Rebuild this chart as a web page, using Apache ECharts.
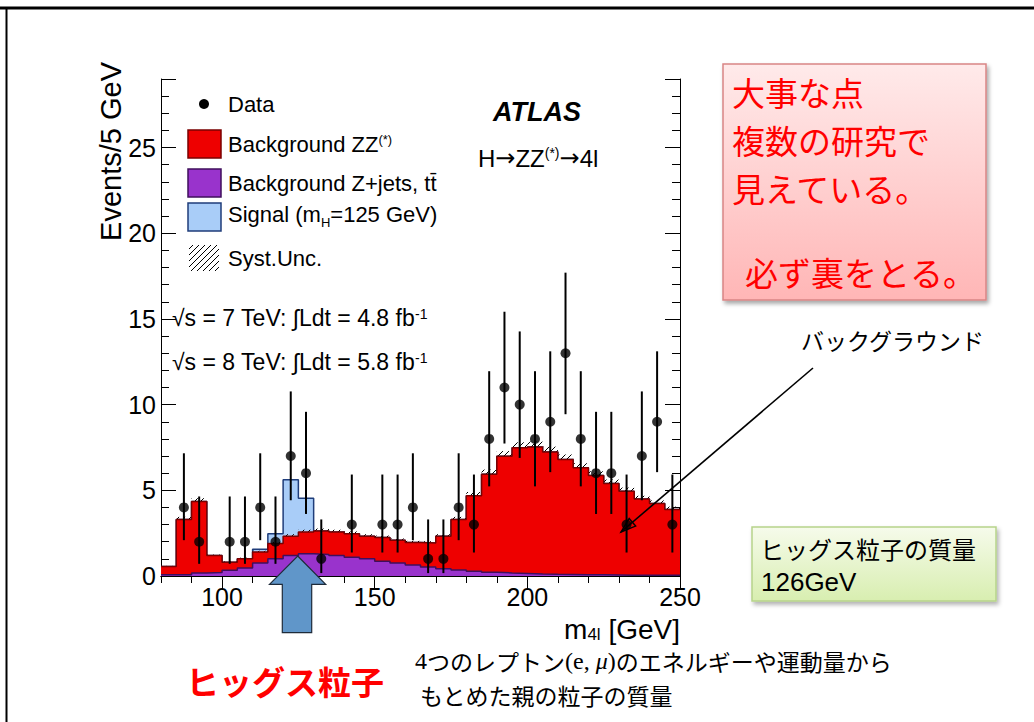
<!DOCTYPE html>
<html>
<head>
<meta charset="utf-8">
<script src="https://cdn.jsdelivr.net/npm/echarts@6/dist/echarts.min.js"></script>
<style>
  html, body { margin: 0; padding: 0; background: #fff; }
  #chart { width: 1034px; height: 722px; }
</style>
</head>
<body>
<div id="chart"></div>
<script>
// Lower edges of the 5 GeV bins in m4l [GeV]
const binLow = [80,85,90,95,100,105,110,115,120,125,130,135,140,145,150,155,160,165,170,175,
                180,185,190,195,200,205,210,215,220,225,230,235,240,245];
const binWidth = 5;
const xMin = 80, xMax = 250;
const yMin = 0, yMax = 29;

// Expected background Z+jets, tt̄ (events per bin)
const bkgZjets = [0.08,0.08,0.17,0.20,0.33,0.47,0.76,1.01,1.20,1.30,1.26,1.20,1.10,1.01,0.86,0.76,0.64,0.53,0.43,0.35,
                  0.28,0.22,0.18,0.15,0.12,0.10,0.09,0.08,0.07,0.06,0.05,0.05,0.04,0.04];
// Expected background ZZ(*)
const bkgZZ = [0.48,3.22,4.17,0.99,0.47,0.54,0.64,0.88,1.12,1.27,1.37,1.37,1.37,1.31,1.38,1.32,1.31,1.40,1.89,2.94,
               4.40,5.72,6.81,7.33,7.41,7.14,6.71,6.23,5.79,5.34,4.90,4.44,4.19,3.84];
// Expected signal for mH = 125 GeV
const signal = [0,0,0,0,0,0,0.16,0.58,3.30,1.96,0,0,0,0,0,0,0,0,0,0,
                0,0,0,0,0,0,0,0,0,0,0,0,0,0];
// Systematic uncertainty on the total background
const systUnc = [0.03,0.15,0.20,0.06,0.05,0.06,0.08,0.10,0.12,0.13,0.14,0.13,0.13,0.12,0.12,0.11,0.10,0.10,0.12,0.16,
                 0.22,0.27,0.30,0.32,0.32,0.31,0.29,0.27,0.25,0.23,0.21,0.19,0.18,0.17];
// Observed events (null: empty bin) with their 68% Poisson interval
const dataCounts = [null,4,2,null,2,2,4,2,7,6, 1,null,3,null,3,3,4,1,1,4,
                    3,8,11,10,8,9,13,8,6,6, 3,7,9,3];
const dataLow = [null,2.09,0.71,null,0.71,0.71,2.09,0.71,4.42,3.62, 0.17,null,1.37,null,1.37,1.37,2.09,0.17,0.17,2.09,
                 1.37,5.23,7.73,6.89,5.23,6.06,9.44,5.23,3.62,3.62, 1.37,4.42,6.06,1.37];
const dataHigh = [null,7.16,4.64,null,4.64,4.64,7.16,4.64,10.77,9.58, 3.30,null,5.92,null,5.92,5.92,7.16,3.30,3.30,7.16,
                  5.92,11.95,15.42,14.27,11.95,13.11,17.70,11.95,9.58,9.58, 5.92,10.77,13.11,5.92];

// Axis tick values
const xMajorTicks = [100, 150, 200, 250];
const yMajorStep = 5;

// Colours
const C_ZZ = '#ee0000', C_ZZ_LINE = '#7a0000';
const C_ZJ = '#9933cc', C_ZJ_LINE = '#3f0f5c';
const C_SIG = '#a9cdf8', C_SIG_LINE = '#1f3d7a';

const SANS = '"Liberation Sans", Arial, sans-serif';
const JP = '"Noto Sans CJK JP", sans-serif';
const SERIF = '"Liberation Serif", "DejaVu Serif", serif';
const ARROW = '"DejaVu Sans", sans-serif';

// Hatch pattern for the systematic band
function makeHatch() {
  const s = 6;
  const c = document.createElement('canvas');
  c.width = s; c.height = s;
  const g = c.getContext('2d');
  g.strokeStyle = '#000';
  g.lineWidth = 1;
  g.beginPath();
  g.moveTo(0, s); g.lineTo(s, 0);
  g.moveTo(-1, 1); g.lineTo(1, -1);
  g.moveTo(s - 1, s + 1); g.lineTo(s + 1, s - 1);
  g.stroke();
  return { image: c, repeat: 'repeat' };
}
const hatch = makeHatch();

// Stacked totals
const totalBkg = bkgZjets.map((v, i) => v + bkgZZ[i]);
const totalSig = totalBkg.map((v, i) => v + signal[i]);

// Step-histogram points: one per lower edge plus the closing edge
function stepPoints(vals) {
  const pts = binLow.map((x, i) => [x, vals[i]]);
  pts.push([xMax, vals[vals.length - 1]]);
  return pts;
}

const bandData = binLow.map((x, i) => [x, x + binWidth, totalBkg[i] - systUnc[i], totalBkg[i] + systUnc[i]]);
const pointData = [], errData = [];
binLow.forEach((x, i) => {
  if (dataCounts[i] == null) return;
  const xc = x + binWidth / 2;
  pointData.push([xc, dataCounts[i]]);
  errData.push([xc, dataLow[i], dataHigh[i]]);
});

function histSeries(name, vals, fill, line, z) {
  return {
    name, type: 'line', step: 'end', data: stepPoints(vals),
    xAxisIndex: 0, yAxisIndex: 0, z,
    showSymbol: false, symbol: 'none', silent: true,
    lineStyle: { color: line, width: 1.5 },
    areaStyle: { color: fill, opacity: 1 },
    itemStyle: { color: fill }
  };
}

// Axes: four sides, minor and major ticks pointing inwards
const tickStyle = { color: '#000', width: 1 };
function xAxisDef(pos, major, showLabel) {
  const a = {
    type: 'value', position: pos, min: xMin, max: xMax,
    axisLine: { show: !major, lineStyle: { color: '#000', width: 1 } },
    splitLine: { show: false },
    axisTick: { show: true, inside: true, length: major ? 14 : 7, lineStyle: tickStyle },
    axisLabel: { show: false }
  };
  if (major) {
    a.axisTick.customValues = xMajorTicks;
  } else {
    a.interval = 10;
  }
  if (showLabel) {
    a.axisLabel = {
      show: true, color: '#000', fontSize: 25, fontFamily: SANS, margin: 8, lineHeight: 26,
      formatter: v => xMajorTicks.indexOf(v) >= 0 ? String(v) : ''
    };
  }
  return a;
}
function yAxisDef(pos, major, showLabel) {
  const a = {
    type: 'value', position: pos, min: yMin, max: yMax,
    interval: major ? yMajorStep : 1,
    axisLine: { show: !major, lineStyle: { color: '#000', width: 1 } },
    splitLine: { show: false },
    axisTick: { show: true, inside: true, length: major ? 15 : 8, lineStyle: tickStyle },
    axisLabel: { show: false }
  };
  if (showLabel) {
    a.axisLabel = {
      show: true, color: '#000', fontSize: 25, fontFamily: SANS, margin: 5,
      formatter: v => (v % yMajorStep === 0) ? String(v) : ''
    };
  }
  return a;
}

// Text helper for annotations
function txt(x, y, text, font, fill, extra) {
  return Object.assign({
    type: 'text', x, y, z: 100, silent: true,
    style: Object.assign({
      text, font, fill,
      align: 'left', verticalAlign: 'middle',
      textAlign: 'left', textVerticalAlign: 'middle'
    }, (extra && extra.style) || {})
  }, extra ? { rotation: extra.rotation || 0 } : {});
}
const supStyle = (size) => ({ fontSize: size, fontFamily: SANS, fill: '#000', verticalAlign: 'top', lineHeight: 10 });
const subStyle = (size) => ({ fontSize: size, fontFamily: SANS, fill: '#000', verticalAlign: 'bottom', lineHeight: 10 });
const arrowStyle = (size) => ({ fontSize: size, fontFamily: ARROW, fill: '#000' });

// Background arrow geometry
const bgFrom = [813, 368], bgTip = [621, 532];
const bgLen = Math.hypot(bgTip[0] - bgFrom[0], bgTip[1] - bgFrom[1]);
const ux = (bgTip[0] - bgFrom[0]) / bgLen, uy = (bgTip[1] - bgFrom[1]) / bgLen;
const headBase = [bgTip[0] - 15 * ux, bgTip[1] - 15 * uy];
const headL = [headBase[0] + 5 * uy, headBase[1] - 5 * ux];
const headR = [headBase[0] - 5 * uy, headBase[1] + 5 * ux];

const noteFont = '33px ' + JP;
const graphics = [
  // slide frame
  { type: 'line', z: 100, silent: true, shape: { x1: 0, y1: 8, x2: 1034, y2: 8 }, style: { stroke: '#000', lineWidth: 3 } },
  { type: 'line', z: 100, silent: true, shape: { x1: 6.5, y1: 8, x2: 6.5, y2: 722 }, style: { stroke: '#000', lineWidth: 2 } },

  // axis titles
  txt(111, 62, 'Events/5 GeV', '29px ' + SANS, '#000',
      { rotation: Math.PI / 2, style: { align: 'right', textAlign: 'right' } }),
  txt(680, 629, 'm{sub|4l} [GeV]', '28px ' + SANS, '#000',
      { style: { align: 'right', textAlign: 'right', lineHeight: 28, rich: { sub: subStyle(17) } } }),

  // legend
  { type: 'circle', z: 100, silent: true, shape: { cx: 204, cy: 104, r: 5 }, style: { fill: '#000' } },
  txt(228, 104, 'Data', '22px ' + SANS, '#000'),
  { type: 'rect', z: 100, silent: true, shape: { x: 188, y: 130, width: 33, height: 28 }, style: { fill: C_ZZ, stroke: C_ZZ_LINE, lineWidth: 1.5 } },
  txt(228, 144, 'Background ZZ{sup|(*)}', '22px ' + SANS, '#000', { style: { rich: { sup: supStyle(13) } } }),
  { type: 'rect', z: 100, silent: true, shape: { x: 188, y: 169, width: 33, height: 28 }, style: { fill: C_ZJ, stroke: C_ZJ_LINE, lineWidth: 1.5 } },
  txt(228, 183, 'Background Z+jets, tt\u0304', '22px ' + SANS, '#000', { style: { lineHeight: 26 } }),
  { type: 'rect', z: 100, silent: true, shape: { x: 188, y: 203, width: 33, height: 28 }, style: { fill: C_SIG, stroke: C_SIG_LINE, lineWidth: 1.5 } },
  txt(228, 214, 'Signal (m{sub|H}=125 GeV)', '22px ' + SANS, '#000', { style: { lineHeight: 30, rich: { sub: subStyle(13) } } }),
  { type: 'rect', z: 100, silent: true, shape: { x: 189, y: 245, width: 30, height: 26 }, style: { fill: hatch } },
  txt(228, 258, 'Syst.Unc.', '22px ' + SANS, '#000'),

  // luminosity and experiment labels
  txt(172, 318, '\u221As = 7 TeV: \u222BLdt = 4.8 fb{sup|-1}', '23px ' + SANS, '#000', { style: { rich: { sup: supStyle(14) } } }),
  txt(172, 362, '\u221As = 8 TeV: \u222BLdt = 5.8 fb{sup|-1}', '23px ' + SANS, '#000', { style: { rich: { sup: supStyle(14) } } }),
  txt(493, 112, 'ATLAS', 'italic bold 27px ' + SANS, '#000'),
  txt(478, 158, 'H{ar|\u2192}ZZ{sup|(*)}{ar|\u2192}4l', '24px ' + SANS, '#000',
      { style: { rich: { sup: supStyle(14), ar: arrowStyle(24) } } }),

  // pink note box
  { type: 'rect', z: 100, silent: true, shape: { x: 723, y: 64, width: 263, height: 236 },
    style: { fill: new echarts.graphic.LinearGradient(0, 0, 0, 1, [{ offset: 0, color: '#ffeaea' }, { offset: 1, color: '#ffb6b6' }]),
             stroke: '#d98585', lineWidth: 1.5, shadowBlur: 4, shadowOffsetX: 2, shadowOffsetY: 3, shadowColor: 'rgba(0,0,0,0.35)' } },
  txt(732, 92, '大事な点', noteFont, '#ff0000', { style: { lineHeight: 40 } }),
  txt(732, 140, '複数の研究で', noteFont, '#ff0000', { style: { lineHeight: 40 } }),
  txt(732, 188, '見えている。', noteFont, '#ff0000', { style: { lineHeight: 40 } }),
  txt(745, 272, '必ず裏をとる。', noteFont, '#ff0000', { style: { lineHeight: 40 } }),

  // background annotation
  txt(801, 340, 'バックグラウンド', '23px ' + JP, '#000'),
  { type: 'line', z: 100, silent: true, shape: { x1: bgFrom[0], y1: bgFrom[1], x2: bgTip[0], y2: bgTip[1] }, style: { stroke: '#000', lineWidth: 1.6 } },
  { type: 'polygon', z: 100, silent: true, shape: { points: [bgTip, headL, headR] }, style: { fill: 'none', stroke: '#000', lineWidth: 1.4 } },

  // mass note box
  { type: 'rect', z: 100, silent: true, shape: { x: 752, y: 527, width: 244, height: 74 },
    style: { fill: new echarts.graphic.LinearGradient(0, 0, 0, 1, [{ offset: 0, color: '#f6fbeb' }, { offset: 1, color: '#d8eeb0' }]),
             stroke: '#b6d48a', lineWidth: 1.5, shadowBlur: 4, shadowOffsetX: 2, shadowOffsetY: 3, shadowColor: 'rgba(0,0,0,0.3)' } },
  txt(760, 548, 'ヒッグス粒子の質量', '24px ' + JP, '#000', { style: { lineHeight: 28 } }),
  txt(761, 582, '126GeV', '26px ' + SANS, '#000', { style: { lineHeight: 28 } }),

  // Higgs arrow
  { type: 'polygon', z: 100, silent: true,
    shape: { points: [[297.7, 556], [325.7, 584.3], [311.7, 584.3], [311.7, 632.7], [282.3, 632.7], [282.3, 584.3], [269.5, 584.3]] },
    style: { fill: '#6096c9', stroke: '#1e2b3a', lineWidth: 1.2 } },
  txt(186, 681, 'ヒッグス粒子', 'bold 33px ' + JP, '#ff0000'),

  // caption
  txt(415, 661, '{s|4}つのレプトン{s|(e, }{si|μ}{s|)}のエネルギーや運動量から', '23px ' + JP, '#000',
      { style: { lineHeight: 28, rich: { s: { fontFamily: SERIF, fontSize: 24, fill: '#000', lineHeight: 28 }, si: { fontFamily: SERIF, fontSize: 24, fontStyle: 'italic', fill: '#000', lineHeight: 28 } } } }),
  txt(420, 695, 'もとめた親の粒子の質量', '23px ' + JP, '#000', { style: { lineHeight: 28 } })
];

const chart = echarts.init(document.getElementById('chart'), null, { renderer: 'svg' });
chart.setOption({
  animation: false,
  backgroundColor: '#fff',
  grid: { left: 161, right: 354, top: 79, bottom: 146, containLabel: false },
  xAxis: [
    xAxisDef('bottom', false, true),
    xAxisDef('bottom', true, false),
    xAxisDef('top', false, false),
    xAxisDef('top', true, false)
  ],
  yAxis: [
    yAxisDef('left', false, true),
    yAxisDef('left', true, false),
    yAxisDef('right', false, false),
    yAxisDef('right', true, false)
  ],
  series: [
    histSeries('Signal (mH=125 GeV)', totalSig, C_SIG, C_SIG_LINE, 2),
    {
      name: 'Syst.Unc.', type: 'custom', z: 3, silent: true,
      xAxisIndex: 0, yAxisIndex: 0, data: bandData,
      encode: { x: [0, 1], y: [2, 3] },
      renderItem: (params, api) => {
        const p0 = api.coord([api.value(0), api.value(3)]);
        const p1 = api.coord([api.value(1), api.value(2)]);
        return { type: 'rect', shape: { x: p0[0], y: p0[1], width: p1[0] - p0[0], height: p1[1] - p0[1] }, style: { fill: hatch } };
      }
    },
    histSeries('Background ZZ(*)', totalBkg, C_ZZ, C_ZZ_LINE, 4),
    histSeries('Background Z+jets, tt̄', bkgZjets, C_ZJ, C_ZJ_LINE, 5),
    {
      name: 'Data error', type: 'custom', z: 6, silent: true,
      xAxisIndex: 0, yAxisIndex: 0, data: errData,
      encode: { x: 0, y: [1, 2] },
      renderItem: (params, api) => {
        const a = api.coord([api.value(0), api.value(1)]);
        const b = api.coord([api.value(0), api.value(2)]);
        return { type: 'line', shape: { x1: a[0], y1: a[1], x2: b[0], y2: b[1] }, style: { stroke: '#000', lineWidth: 2 } };
      }
    },
    {
      name: 'Data', type: 'scatter', z: 7, silent: true,
      xAxisIndex: 0, yAxisIndex: 0, data: pointData,
      symbol: 'circle', symbolSize: 10, itemStyle: { color: '#000' }
    }
  ],
  graphic: { elements: graphics }
});
</script>
</body>
</html>
